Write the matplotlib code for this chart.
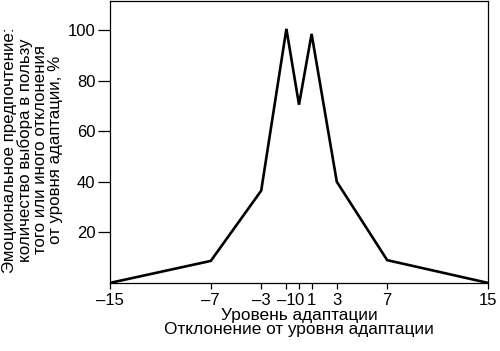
import matplotlib

matplotlib.use("Agg")
import matplotlib.pyplot as plt

plt.rcParams["font.family"] = ["Liberation Sans", "DejaVu Sans"]

# deviation from adaptation level vs. emotional preference, %
deviation = [-15, -7, -3, -1, 0, 1, 3, 7, 15]
preference = [0, 8.7, 36.5, 100.5, 70.5, 98.5, 40, 9, 0]

xticks = [-15, -7, -3, -1, 0, 1, 3, 7, 15]
yticks = [20, 40, 60, 80, 100]

fig = plt.figure(figsize=(5.0, 3.51), dpi=100)
ax = fig.add_axes([0.22, 0.194, 0.756, 0.803])

ax.plot(deviation, preference, color="black", linewidth=1.9,
        solid_joinstyle="miter")

ax.set_xlim(-15, 15)
ax.set_ylim(0, 111.5)
ax.set_xticks(xticks)
ax.set_xticklabels([f"{v}".replace("-", "\u2013") for v in xticks])
ax.set_yticks(yticks)

ax.tick_params(axis="x", length=4, width=0.9, labelsize=12, pad=3)
ax.tick_params(axis="y", length=9, width=0.9, labelsize=12, pad=1.5)
for spine in ax.spines.values():
    spine.set_linewidth(0.9)

fig.text(0.598, 0.123, "Уровень адаптации\nОтклонение от уровня адаптации",
         ha="center", va="top", fontsize=12.4, linespacing=0.92)

fig.text(0.065, 0.573,
         "Эмоциональное предпочтение:\nколичество выбора в пользу\n"
         "того или иного отклонения\nот уровня адаптации, %",
         ha="center", va="center", rotation=90, fontsize=12.2,
         linespacing=0.98)

fig.savefig("out.png", dpi=100)
